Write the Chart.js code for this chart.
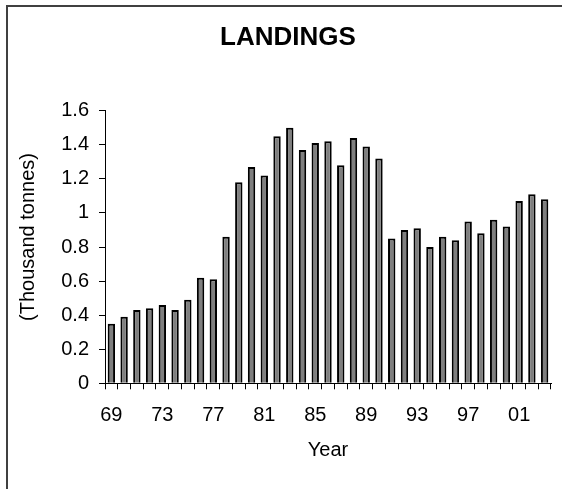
<!DOCTYPE html>
<html>
<head>
<meta charset="utf-8">
<title>Landings</title>
<script src="https://cdn.jsdelivr.net/npm/chart.js@4.4.1/dist/chart.umd.min.js"></script>
<style>
  html, body { margin: 0; padding: 0; background: #fff; overflow: hidden; }
  #wrap { position: relative; width: 562px; height: 489px; }
  #frame {
    position: absolute; left: 6px; top: 5px; width: 600px; height: 520px;
    border-top: 2px solid #404040; border-left: 2px solid #404040;
  }
  canvas { position: absolute; left: 0; top: 0; }
</style>
</head>
<body>
<div id="wrap">
  <div id="frame"></div>
  <canvas id="chart" width="562" height="489"></canvas>
</div>
<script>
// --- Data ---
const years = [
  '69', '70', '71', '72', '73', '74', '75', '76', '77', '78',
  '79', '80', '81', '82', '83', '84', '85', '86', '87', '88',
  '89', '90', '91', '92', '93', '94', '95', '96', '97', '98',
  '99', '00', '01', '02', '03'
];
// Landings, thousand tonnes
const landings = [
  0.35, 0.39, 0.43, 0.44, 0.46, 0.43, 0.49, 0.62, 0.61, 0.86,
  1.18, 1.27, 1.22, 1.45, 1.50, 1.37, 1.41, 1.42, 1.28, 1.44,
  1.39, 1.32, 0.85, 0.90, 0.91, 0.80, 0.86, 0.84, 0.95, 0.88,
  0.96, 0.92, 1.07, 1.11, 1.08
];
// every 4th year gets a label
const yearLabels = ['69', '73', '77', '81', '85', '89', '93', '97', '01'];
const yTicks = [0, 0.2, 0.4, 0.6, 0.8, 1, 1.2, 1.4, 1.6];

const chartTitle = 'LANDINGS';
const xTitle = 'Year';
const yTitle = '(Thousand tonnes)';

const FONT = '"Liberation Sans", Arial, Helvetica, sans-serif';

// y axis title drawn by hand so it sits where the original has it
const yTitlePlugin = {
  id: 'yTitle',
  afterDraw(chart) {
    const ctx = chart.ctx;
    ctx.save();
    ctx.translate(28, 237);
    ctx.rotate(-Math.PI / 2);
    ctx.font = '20px ' + FONT;
    ctx.fillStyle = '#000';
    ctx.textAlign = 'center';
    ctx.textBaseline = 'middle';
    ctx.fillText(yTitle, 0, 0);
    ctx.restore();
  }
};

new Chart(document.getElementById('chart').getContext('2d'), {
  type: 'bar',
  data: {
    labels: years,
    datasets: [{
      data: landings,
      backgroundColor: '#7f7f7f',
      borderColor: '#000',
      borderWidth: 2,
      borderSkipped: 'bottom',
      barPercentage: 0.58,
      categoryPercentage: 1
    }]
  },
  options: {
    responsive: false,
    animation: false,
    layout: { padding: { left: 25, right: 11, top: 0, bottom: 0 } },
    plugins: {
      legend: { display: false },
      tooltip: { enabled: false },
      title: {
        display: true,
        text: chartTitle,
        color: '#000',
        font: { family: FONT, size: 26, weight: 'bold' },
        padding: { top: 22, bottom: 57.5 }
      }
    },
    scales: {
      x: {
        offset: true,
        grid: {
          offset: true,
          drawOnChartArea: false,
          drawTicks: true,
          tickLength: 6,
          color: '#000'
        },
        border: { display: true, color: '#000', width: 1 },
        ticks: {
          autoSkip: false,
          maxRotation: 0,
          padding: 14,
          color: '#000',
          font: { family: FONT, size: 20 },
          callback: function (v, i) {
            const lab = years[i];
            return yearLabels.includes(lab) ? lab : '';
          }
        },
        title: {
          display: true,
          text: xTitle,
          color: '#000',
          font: { family: FONT, size: 20 },
          padding: { top: 0, bottom: 27 }
        },
        afterFit(scale) { scale.height = 105.7; }
      },
      y: {
        min: 0,
        max: 1.6,
        grid: {
          drawOnChartArea: false,
          drawTicks: true,
          tickLength: 6,
          color: '#000'
        },
        border: { display: true, color: '#000', width: 1 },
        afterBuildTicks(scale) {
          scale.ticks = yTicks.map(v => ({ value: v }));
        },
        ticks: {
          padding: 10,
          color: '#000',
          font: { family: FONT, size: 20 },
          callback: v => String(Math.round(v * 10) / 10)
        },
        afterFit(scale) { scale.width = 80; }
      }
    }
  },
  plugins: [yTitlePlugin]
});
</script>
</body>
</html>
